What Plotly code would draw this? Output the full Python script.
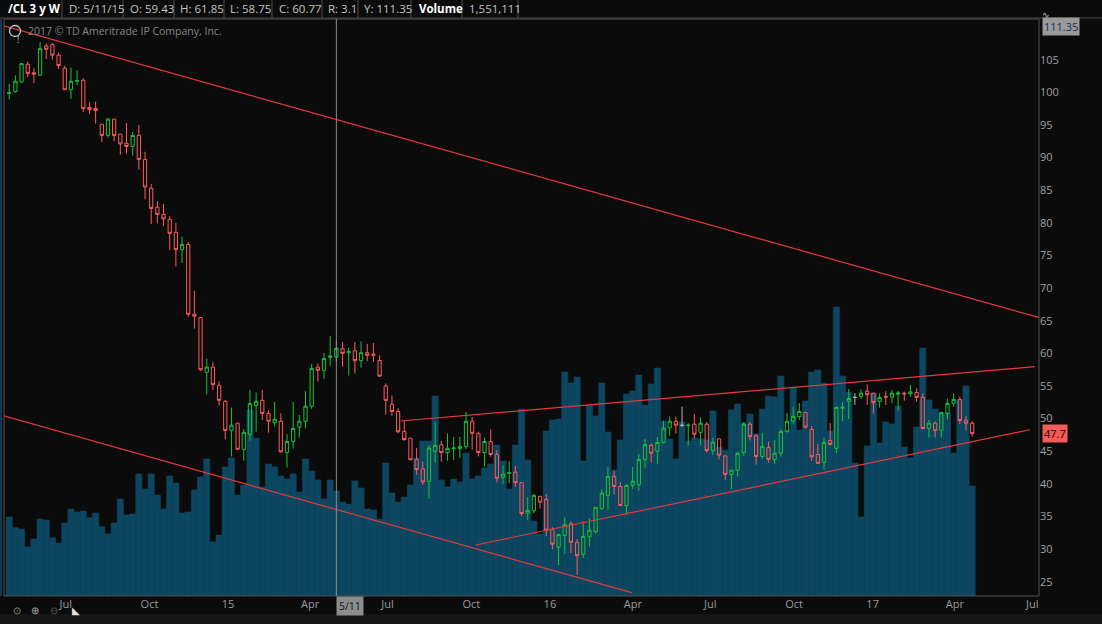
import pandas as pd
import plotly.graph_objects as go

# /CL 3 y W  - weekly bars, one per week (Monday dates)
weeks = pd.date_range('2014-05-05', periods=157, freq='7D')

opens = [
    99.8, 100.1, 101.6, 104.3, 103.0, 102.65, 107.1, 107.35, 105.7, 103.7,
    100.4, 101.7, 101.85, 97.7, 97.55, 95.1, 93.4, 95.9, 93.6, 92.2,
    91.7, 93.4, 89.7, 85.3, 82.4, 81.3, 80.5, 78.55, 75.9, 76.7,
    66.0, 65.5, 57.1, 57.9, 55.1, 52.65, 48.2, 49.3, 45.3, 47.6,
    52.0, 52.8, 50.8, 49.4, 49.6, 44.8, 46.5, 48.7, 49.6, 51.9,
    57.9, 57.4, 59.4, 59.43, 60.7, 60.1, 60.4, 58.9, 60.1, 59.9,
    58.9, 55.0, 52.2, 51.1, 48.05, 47.0, 43.7, 42.3, 40.4, 45.0,
    46.0, 44.8, 45.4, 45.4, 45.75, 49.6, 47.75, 44.8, 46.5, 44.5,
    41.0, 41.6, 41.8, 40.2, 35.5, 35.9, 38.1, 37.6, 33.0, 30.3,
    32.1, 33.9, 31.0, 29.2, 31.9, 32.7, 36.25, 38.25, 41.15, 39.6,
    36.7, 39.8, 39.9, 43.75, 45.9, 45.0, 46.3, 48.6, 49.6, 48.97,
    48.9, 49.15, 47.9, 49.15, 45.1, 46.9, 44.3, 41.45, 42.1, 44.8,
    49.15, 47.35, 44.2, 45.6, 43.75, 44.7, 48.05, 49.6, 50.3, 50.95,
    48.35, 44.5, 43.3, 46.65, 45.45, 51.6, 52.65, 53.26, 53.4, 54.2,
    53.9, 52.65, 53.4, 53.3, 53.75, 53.9, 53.8, 54.0, 53.25, 48.5,
    49.3, 48.2, 50.8, 52.35, 52.95, 49.75, 49.3,
]
highs = [
    101.3, 102.6, 104.5, 104.7, 103.7, 107.7, 107.5, 107.5, 106.1, 104.1,
    103.8, 103.4, 102.15, 98.5, 98.6, 95.1, 96.1, 95.9, 93.6, 95.3,
    93.9, 95.0, 90.9, 85.95, 83.35, 82.9, 81.05, 80.0, 77.9, 77.05,
    69.6, 65.5, 59.2, 58.7, 55.7, 52.85, 51.7, 49.3, 48.4, 54.4,
    54.0, 54.4, 51.3, 52.55, 50.8, 47.6, 52.55, 50.55, 54.2, 58.4,
    58.4, 60.05, 62.65, 61.85, 61.75, 60.9, 61.75, 61.85, 61.45, 61.6,
    59.7, 55.4, 53.55, 51.6, 49.75, 47.0, 45.5, 43.45, 45.9, 49.5,
    46.6, 47.75, 47.2, 47.2, 51.0, 50.25, 48.0, 47.1, 48.35, 45.15,
    42.85, 43.45, 42.75, 40.2, 38.0, 38.45, 38.1, 38.45, 33.35, 32.3,
    34.9, 34.25, 31.55, 34.25, 34.7, 36.45, 39.15, 42.6, 42.0, 40.25,
    39.9, 42.6, 44.6, 46.9, 46.2, 47.2, 49.65, 50.3, 50.3, 51.85,
    49.3, 50.7, 50.15, 49.5, 47.1, 46.9, 44.3, 42.1, 44.9, 49.5,
    49.5, 47.65, 47.8, 46.5, 46.7, 48.4, 50.85, 51.8, 52.4, 50.95,
    48.85, 46.1, 47.1, 49.3, 51.9, 52.5, 54.55, 53.9, 54.5, 55.25,
    53.9, 53.85, 54.2, 54.4, 54.25, 54.15, 55.15, 54.65, 53.9, 49.8,
    49.6, 50.95, 53.05, 53.9, 53.4, 50.35, 49.6,
]
lows = [
    98.9, 99.95, 101.5, 102.35, 101.4, 102.5, 105.1, 105.0, 103.6, 100.4,
    99.0, 101.1, 97.0, 96.7, 95.2, 92.4, 93.05, 92.5, 90.45, 90.6,
    90.3, 88.15, 83.6, 79.8, 79.9, 79.5, 75.8, 73.3, 73.85, 65.6,
    63.8, 57.3, 53.7, 54.4, 52.0, 46.8, 44.2, 45.3, 43.55, 46.6,
    48.0, 49.8, 47.85, 48.8, 44.8, 42.5, 45.4, 47.1, 48.5, 51.5,
    55.7, 56.1, 58.1, 58.75, 57.95, 56.6, 56.9, 57.8, 58.8, 58.7,
    56.4, 50.6, 50.4, 47.75, 46.6, 43.7, 41.4, 39.85, 37.7, 43.25,
    43.4, 43.55, 43.65, 44.0, 45.35, 45.25, 44.2, 42.65, 44.15, 40.2,
    40.0, 40.1, 39.55, 35.1, 34.45, 35.5, 36.2, 32.0, 29.95, 27.55,
    29.25, 29.4, 26.05, 28.7, 30.45, 32.35, 36.0, 36.0, 38.35, 36.7,
    35.3, 39.2, 38.95, 42.5, 43.25, 43.1, 46.2, 47.35, 47.7, 48.7,
    45.85, 46.95, 45.85, 44.8, 44.45, 43.75, 40.6, 39.2, 41.1, 44.3,
    46.65, 42.95, 43.8, 43.25, 43.1, 44.15, 47.85, 49.2, 49.8, 48.5,
    43.5, 43.1, 42.15, 45.9, 44.75, 49.65, 49.95, 52.1, 53.05, 52.1,
    50.75, 51.7, 52.1, 52.35, 51.2, 52.75, 53.35, 52.55, 48.35, 47.1,
    47.1, 47.1, 49.9, 51.85, 49.2, 48.15, 47.25,
]
closes = [
    100.0, 101.7, 104.4, 102.9, 102.8, 106.7, 106.6, 105.7, 104.1, 100.4,
    101.7, 101.8, 97.5, 97.35, 97.2, 93.4, 95.9, 93.4, 92.1, 91.7,
    93.4, 89.7, 85.5, 82.2, 81.3, 80.6, 78.4, 75.9, 76.7, 66.0,
    65.7, 57.5, 57.9, 55.2, 52.8, 48.2, 49.0, 45.3, 47.9, 52.3,
    52.65, 50.8, 49.6, 49.9, 44.9, 46.5, 48.5, 49.6, 51.9, 57.7,
    57.4, 59.2, 59.6, 60.77, 60.0, 60.3, 58.9, 60.1, 59.7, 59.7,
    56.5, 52.8, 51.1, 48.0, 46.8, 43.7, 42.2, 40.3, 45.5, 45.9,
    44.8, 45.45, 45.5, 45.75, 49.6, 47.75, 44.8, 46.5, 44.5, 40.85,
    41.5, 41.7, 40.2, 35.45, 35.95, 38.25, 37.2, 32.9, 30.75, 32.25,
    33.75, 31.05, 29.0, 31.95, 32.9, 36.4, 38.6, 41.15, 39.6, 36.7,
    39.75, 40.4, 43.75, 46.05, 44.7, 46.35, 48.55, 49.6, 49.0, 48.97,
    49.0, 47.6, 49.3, 45.1, 46.4, 44.4, 41.45, 42.1, 44.7, 49.15,
    47.25, 44.2, 45.75, 43.75, 44.7, 48.05, 49.6, 50.35, 51.1, 48.7,
    44.15, 43.15, 46.35, 46.05, 51.7, 51.75, 53.1, 53.26, 53.9, 53.65,
    52.5, 53.25, 53.3, 53.9, 53.9, 53.8, 54.1, 53.25, 48.5, 49.3,
    48.15, 50.95, 52.35, 52.95, 49.7, 49.3, 47.7,
]
# weekly volume, thousands of contracts
volume_k = [
    1167, 1009, 990, 724, 842, 1137, 1123, 861, 783, 1078,
    1285, 1241, 1256, 1157, 1226, 1024, 916, 1078, 1433, 1197,
    1211, 1802, 1581, 1802, 1492, 1285, 1773, 1669, 1226, 1241,
    1566, 1758, 2024, 798, 901, 1906, 2039, 1492, 1640, 2748,
    2334, 1610, 1950, 1906, 1773, 1728, 1802, 1536, 2024, 1847,
    1714, 1433, 1714, 1551.111, 1389, 1359, 1699, 1595, 1285, 1270,
    1137, 1965, 1522, 1389, 1462, 1640, 2039, 2290, 2290, 2954,
    1714, 1610, 1728, 1684, 2112, 1728, 1773, 1891, 1950, 2231,
    1994, 1581, 2231, 2762, 2009, 1108, 916, 2437, 2600, 2615,
    3309, 3146, 3235, 1994, 2821, 2659, 3146, 2423, 1861, 2304,
    2984, 3028, 3265, 2821, 3132, 3368, 2585, 2319, 2024, 2570,
    2290, 2334, 2320, 2305, 2733, 2201, 2157, 2748, 2836, 2556,
    2689, 2393, 2762, 2954, 2940, 3250, 2452, 3087, 2452, 2881,
    3309, 3338, 3146, 2437, 4269, 3250, 3013, 1965, 1167, 2216,
    2999, 2260, 2570, 2541, 2807, 2201, 2039, 2496, 3663, 2895,
    2762, 2703, 2703, 2112, 2895, 3102, 1625,
]

# hand-drawn trend lines (start date, start price, end date, end price)
line_x0 = ['2014-04-28 07:00', '2014-04-28 07:00', '2015-07-23', '2015-10-16']
line_y0 = [110.2, 50.45, 49.64, 30.64]
line_x1 = ['2017-07-15 19:00', '2016-04-10', '2017-07-11', '2017-07-05 14:00']
line_y1 = [65.5, 23.33, 57.96, 48.30]

price_ticks = [25, 30, 35, 40, 45, 50, 55, 60, 65, 70, 75, 80, 85, 90, 95, 100, 105]
month_ticks = ['2014-07-01', '2014-10-01', '2015-01-01', '2015-04-01', '2015-07-01',
               '2015-10-01', '2016-01-01', '2016-04-01', '2016-07-01', '2016-10-01',
               '2017-01-01', '2017-04-01', '2017-07-01']
month_text = ['Jul', 'Oct', '15', 'Apr', 'Jul', 'Oct', '16', 'Apr', 'Jul', 'Oct', '17', 'Apr', 'Jul']

cursor_date = '2015-05-11'
header = [('/CL 3 y W', True), ('D: 5/11/15', False), ('O: 59.43', False), ('H: 61.85', False),
          ('L: 58.75', False), ('C: 60.77', False), ('R: 3.1', False), ('Y: 111.35', False),
          ('Volume', True), ('1,551,111', False)]
header_x = [6, 67, 128, 178, 228, 277, 326, 362, 417, 467]
header_sep = [62, 123, 174, 224, 272, 322, 358, 411, 462, 518]
last_price = 47.7
high_label = '111.35'

df = pd.DataFrame({'date': weeks, 'open': opens, 'high': highs, 'low': lows,
                   'close': closes, 'vol': volume_k})
moving = df[df['open'] != df['close']]
flat = df[df['open'] == df['close']]

bg = '#0b0b0b'
green = '#19c236'
red = '#ff5a5a'
vol_color = '#0d4660'

# plot area in pixels
L, R, T, B = 4, 63, 19, 28
W, H = 1102 - L - R, 624 - T - B


def fx(px):
    return (px - L) / W


def fy(py):
    return (624 - B - py) / H


fig = go.Figure()

fig.add_trace(go.Bar(x=df['date'], y=df['vol'], width=7 * 24 * 3600 * 1000,
                     marker=dict(color=vol_color, line=dict(color=vol_color, width=0.6)),
                     yaxis='y', hoverinfo='skip'))

fig.add_trace(go.Candlestick(
    x=moving['date'], open=moving['open'], high=moving['high'],
    low=moving['low'], close=moving['close'], yaxis='y2',
    increasing=dict(line=dict(color=green, width=1), fillcolor='rgba(0,0,0,0)'),
    decreasing=dict(line=dict(color=red, width=1), fillcolor='rgba(0,0,0,0)'),
))
fig.add_trace(go.Candlestick(
    x=flat['date'], open=flat['open'], high=flat['high'],
    low=flat['low'], close=flat['close'], yaxis='y2',
    increasing=dict(line=dict(color='#b4b4b4', width=1), fillcolor='rgba(0,0,0,0)'),
    decreasing=dict(line=dict(color='#b4b4b4', width=1), fillcolor='rgba(0,0,0,0)'),
))

for x0, y0, x1, y1 in zip(line_x0, line_y0, line_x1, line_y1):
    fig.add_trace(go.Scatter(x=[x0, x1], y=[y0, y1], mode='lines', yaxis='y2',
                             line=dict(color='#e5393e', width=1.2), hoverinfo='skip'))

fig.update_layout(
    width=1102, height=624,
    margin=dict(l=L, r=R, t=T, b=B),
    paper_bgcolor=bg, plot_bgcolor=bg,
    showlegend=False,
    hovermode=False,
    boxgap=0.25,
    font=dict(family='Open Sans', size=11, color='#9c9c9c'),
    xaxis=dict(type='date', range=['2014-04-29 02:00', '2017-07-15 19:00'],
               showgrid=False, zeroline=False, ticks='',
               tickvals=month_ticks, ticktext=month_text,
               ticklabelposition='outside right',
               rangeslider=dict(visible=False)),
    yaxis=dict(range=[0, 8523], visible=False),
    yaxis2=dict(overlaying='y', side='right', range=[22.82, 111.24],
                tickvals=price_ticks, showgrid=False, zeroline=False, ticks='',
                tickfont=dict(color='#a0a0a0', size=11)),
)

shapes = [
    dict(type='rect', xref='paper', yref='paper', x0=0, x1=1, y0=0, y1=1,
         line=dict(color='#555555', width=1)),
    dict(type='line', xref='x', yref='paper', x0=cursor_date, x1=cursor_date, y0=0, y1=1,
         line=dict(color='#8a8a8a', width=1)),
    dict(type='line', xref='paper', yref='paper', x0=fx(0), x1=fx(1102), y0=fy(18), y1=fy(18),
         line=dict(color='#4a4a4a', width=1)),
    dict(type='rect', xref='paper', yref='paper', x0=fx(0), x1=fx(1102), y0=fy(624), y1=fy(614),
         fillcolor='#161616', line=dict(width=0)),
    dict(type='rect', xref='paper', yref='paper', x0=fx(0), x1=fx(2), y0=fy(596), y1=fy(19),
         fillcolor='#0f3b55', line=dict(width=0)),
    dict(type='circle', xref='paper', yref='paper', x0=fx(9.5), x1=fx(20.5), y0=fy(36.5), y1=fy(25.5),
         line=dict(color='#c8c8c8', width=1.3)),
]
for sx in header_sep:
    shapes.append(dict(type='line', xref='paper', yref='paper', x0=fx(sx), x1=fx(sx),
                       y0=fy(0), y1=fy(18), line=dict(color='#4a4a4a', width=1)))
fig.update_layout(shapes=shapes)

ann = []
for (text, bold), hx in zip(header, header_x):
    ann.append(dict(xref='paper', yref='paper', x=fx(hx), y=fy(9), xanchor='left', yanchor='middle',
                    text='<b>%s</b>' % text if bold else text, showarrow=False,
                    font=dict(size=11.5, color='#ffffff' if bold else '#c4c4c4')))
ann.append(dict(xref='paper', yref='paper', x=fx(15), y=fy(31), text='!', showarrow=False,
                font=dict(size=9, color='#c8c8c8')))
ann.append(dict(xref='paper', yref='paper', x=fx(26), y=fy(31), xanchor='left', yanchor='middle',
                text='2017 © TD Ameritrade IP Company, Inc.', showarrow=False,
                font=dict(size=10.5, color='#858585')))
ann.append(dict(xref='paper', yref='y2', x=fx(1042), y=last_price, xanchor='left', yanchor='middle',
                text=str(last_price), showarrow=False, bgcolor='#f35b5b', borderpad=1,
                font=dict(size=11, color='#300000')))
ann.append(dict(xref='paper', yref='paper', x=fx(1042), y=fy(26), xanchor='left', yanchor='middle',
                text=high_label, showarrow=False, bgcolor='#9a9a9a', borderpad=1,
                font=dict(size=11, color='#1e2b55')))
ann.append(dict(xref='x', yref='paper', x=cursor_date, y=fy(606), xanchor='left', yanchor='middle',
                text='5/11', showarrow=False, bgcolor='#8c8c8c', borderpad=2,
                font=dict(size=10.5, color='#111111')))
ann.append(dict(xref='paper', yref='paper', x=fx(1052), y=fy(6), text='∿', showarrow=False,
                font=dict(size=9, color='#bbbbbb')))
for gx, g, c in [(11, '⊙', '#8a8a8a'), (29, '⊕', '#aaaaaa'), (48, '⊖', '#555555'), (70, '◣', '#e0e0e0')]:
    ann.append(dict(xref='paper', yref='paper', x=fx(gx), y=fy(619), text=g, showarrow=False,
                    font=dict(size=10, color=c)))
fig.update_layout(annotations=ann)

# the page body has a default 8px margin; drop it so the chart sits at the window corner
fig.write_html('out.html', config={'displayModeBar': False},
               post_script="document.body.style.margin='0';")
